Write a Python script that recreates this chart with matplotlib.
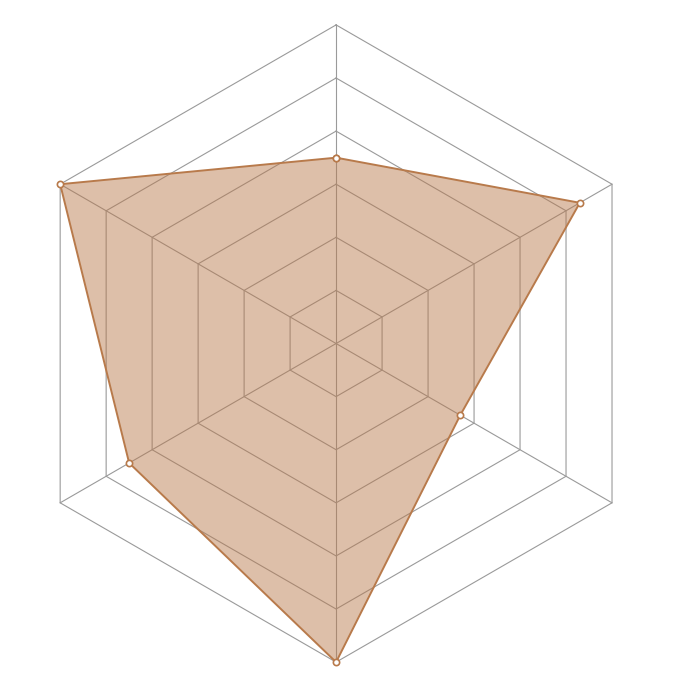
import numpy as np
import matplotlib
matplotlib.use("Agg")
import matplotlib.pyplot as plt

categories = ["A", "B", "C", "D", "E", "F"]
values = [3.5, 5.3, 2.7, 6.0, 4.5, 6.0]
levels = [1, 2, 3, 4, 5, 6]

n = len(categories)
angles = np.linspace(0, 2 * np.pi, n, endpoint=False)
ang_c = np.append(angles, angles[0])

fig = plt.figure(figsize=(6.88, 6.88), dpi=100)
ax = fig.add_axes([0.0254, 0.0376, 0.9262, 0.9262], polar=True)
ax.set_theta_offset(np.pi / 2)
ax.set_theta_direction(-1)
ax.set_ylim(0, max(levels))
ax.grid(False)
ax.spines["polar"].set_visible(False)
ax.set_xticks([])
ax.set_yticks([])

grid_c = "#9a9a9a"
for lv in levels:
    ax.plot(ang_c, [lv] * (n + 1), color=grid_c, lw=0.8, zorder=1, clip_on=False)
for a in angles:
    ax.plot([a, a], [0, max(levels)], color=grid_c, lw=0.8, zorder=1, clip_on=False)

vals_c = values + values[:1]
ax.fill(ang_c, vals_c, color="#b8784a", alpha=0.47, lw=0, zorder=2, clip_on=False)
ax.plot(ang_c, vals_c, color="#b87a4b", lw=1.4, zorder=3, clip_on=False,
        marker="o", markersize=4.5, markerfacecolor="white",
        markeredgecolor="#b87a4b", markeredgewidth=1.2)

fig.savefig("out.png", dpi=100)
